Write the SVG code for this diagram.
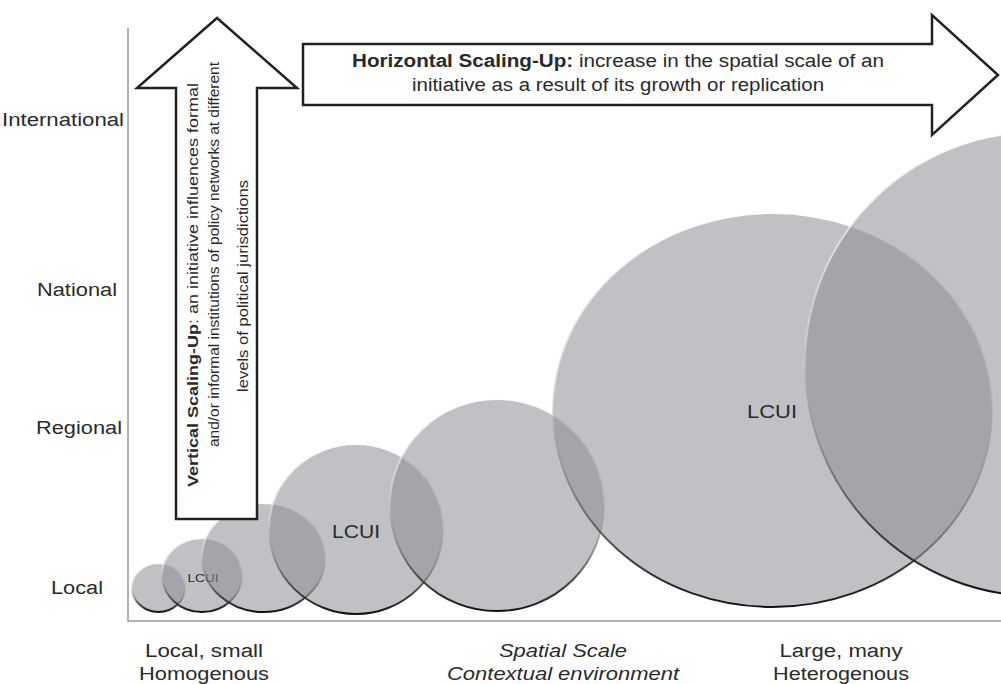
<svg xmlns="http://www.w3.org/2000/svg" width="1001" height="684" viewBox="0 0 1001 684">
<defs>
<linearGradient id="edge" x1="0" y1="0" x2="0" y2="1">
<stop offset="0" stop-color="#ffffff" stop-opacity="0.95"/>
<stop offset="0.45" stop-color="#e0e0e0" stop-opacity="0.5"/>
<stop offset="0.6" stop-color="#888888" stop-opacity="0.4"/>
<stop offset="0.85" stop-color="#333333" stop-opacity="0.85"/>
<stop offset="1" stop-color="#111111" stop-opacity="1"/>
</linearGradient>
</defs>
<style>
.bub{fill:rgb(140,142,150);fill-opacity:0.55;stroke:url(#edge);stroke-width:2}
.t{font-family:"Liberation Sans",Arial,sans-serif;fill:#2a2a2a}
.arrow{fill:#ffffff;stroke:#222222;stroke-width:2.5;stroke-linejoin:miter}
.axis{stroke:#9a9a9a;stroke-width:1.5;fill:none}
</style>
<rect width="1001" height="684" fill="#ffffff"/>
<g id="connectors">
<polyline class="axis" points="128,28 128,621 1001,621"/>
</g>
<g id="bubble1"><ellipse class="bub" cx="158.5" cy="587.5" rx="26.5" ry="24.5"/></g>
<g id="bubble2"><ellipse class="bub" cx="202" cy="575" rx="40" ry="37"/>
<text class="t" x="203" y="582" font-size="11" text-anchor="middle" textLength="31" lengthAdjust="spacingAndGlyphs">LCUI</text></g>
<g id="bubble3"><ellipse class="bub" cx="263.5" cy="557.5" rx="61.5" ry="54.5"/></g>
<g id="bubble4"><ellipse class="bub" cx="356" cy="529" rx="87" ry="85"/>
<text class="t" x="356" y="538" font-size="18" text-anchor="middle" textLength="48" lengthAdjust="spacingAndGlyphs">LCUI</text></g>
<g id="bubble5"><ellipse class="bub" cx="497" cy="505" rx="107" ry="106"/></g>
<g id="bubble6"><ellipse class="bub" cx="772.5" cy="410" rx="219.5" ry="197"/>
<text class="t" x="772" y="418" font-size="18" text-anchor="middle" textLength="50" lengthAdjust="spacingAndGlyphs">LCUI</text></g>
<g id="bubble7"><ellipse class="bub" cx="1037" cy="364" rx="232" ry="232"/></g>
<g id="vertical-arrow">
<polygon class="arrow" points="176,519 176,88 137,88 217,18 297,88 257,88 257,519"/>
<text class="t" font-size="15" transform="translate(198,487) rotate(-90)" textLength="404" lengthAdjust="spacingAndGlyphs"><tspan font-weight="bold">Vertical Scaling-Up</tspan>: an initiative influences formal</text>
<text class="t" font-size="15" transform="translate(219,447) rotate(-90)" textLength="385" lengthAdjust="spacingAndGlyphs">and/or informal institutions of policy networks at different</text>
<text class="t" font-size="15" transform="translate(248,392) rotate(-90)" textLength="212" lengthAdjust="spacingAndGlyphs">levels of political jurisdictions</text>
</g>
<g id="horizontal-arrow">
<polygon class="arrow" points="303,44 932,44 932,15 998,75 932,135 932,105 303,105"/>
<text class="t" x="618" y="67" font-size="18" text-anchor="middle" textLength="532" lengthAdjust="spacingAndGlyphs"><tspan font-weight="bold">Horizontal Scaling-Up:</tspan> increase in the spatial scale of an</text>
<text class="t" x="618" y="91" font-size="18" text-anchor="middle" textLength="412" lengthAdjust="spacingAndGlyphs">initiative as a result of its growth or replication</text>
</g>
<g id="y-labels">
<text class="t" x="124" y="126" font-size="18" text-anchor="end" textLength="122" lengthAdjust="spacingAndGlyphs">International</text>
<text class="t" x="117" y="296" font-size="18" text-anchor="end" textLength="80" lengthAdjust="spacingAndGlyphs">National</text>
<text class="t" x="122" y="434" font-size="18" text-anchor="end" textLength="86" lengthAdjust="spacingAndGlyphs">Regional</text>
<text class="t" x="103" y="594" font-size="18" text-anchor="end" textLength="52" lengthAdjust="spacingAndGlyphs">Local</text>
</g>
<g id="x-labels">
<text class="t" x="204" y="657" font-size="18" text-anchor="middle" textLength="118" lengthAdjust="spacingAndGlyphs">Local, small</text>
<text class="t" x="204" y="680" font-size="18" text-anchor="middle" textLength="130" lengthAdjust="spacingAndGlyphs">Homogenous</text>
<text class="t" x="563" y="657" font-size="18" font-style="italic" text-anchor="middle" textLength="128" lengthAdjust="spacingAndGlyphs">Spatial Scale</text>
<text class="t" x="563" y="680" font-size="18" font-style="italic" text-anchor="middle" textLength="232" lengthAdjust="spacingAndGlyphs">Contextual environment</text>
<text class="t" x="841" y="657" font-size="18" text-anchor="middle" textLength="123" lengthAdjust="spacingAndGlyphs">Large, many</text>
<text class="t" x="841" y="680" font-size="18" text-anchor="middle" textLength="136" lengthAdjust="spacingAndGlyphs">Heterogenous</text>
</g>
</svg>
